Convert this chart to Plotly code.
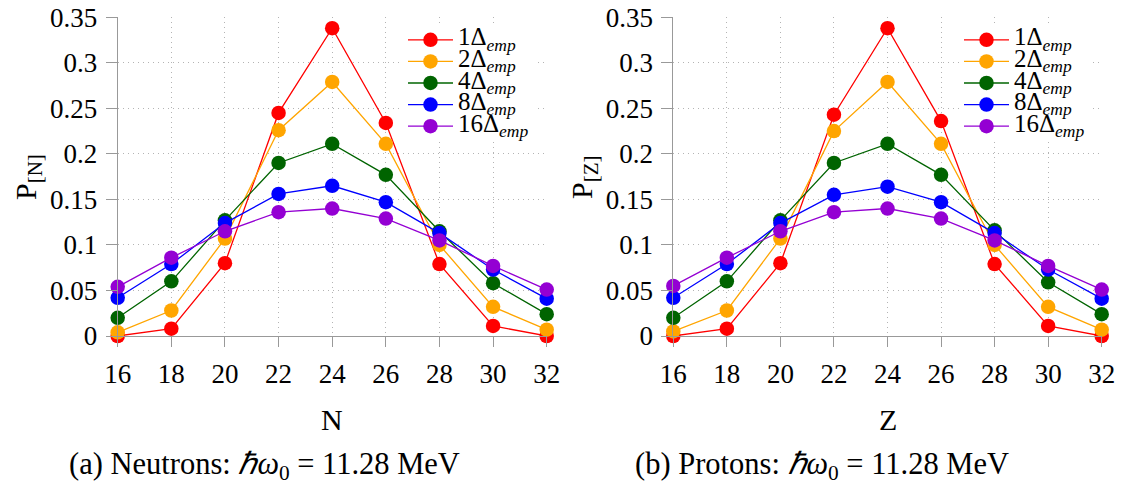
import plotly.graph_objects as go

x_vals = [16, 18, 20, 22, 24, 26, 28, 30, 32]
series_labels = ["1Δ", "2Δ", "4Δ", "8Δ", "16Δ"]
colors = ["#ff0000", "#ffa500", "#006400", "#0000ff", "#9400d3"]

# Neutrons panel
neutrons_1 = [0.000, 0.008, 0.080, 0.245, 0.338, 0.234, 0.079, 0.011, 0.000]
neutrons_2 = [0.004, 0.028, 0.107, 0.226, 0.279, 0.211, 0.100, 0.032, 0.007]
neutrons_4 = [0.020, 0.060, 0.127, 0.190, 0.211, 0.177, 0.115, 0.058, 0.024]
neutrons_8 = [0.042, 0.079, 0.124, 0.156, 0.165, 0.147, 0.113, 0.073, 0.041]
neutrons_16 = [0.054, 0.086, 0.115, 0.136, 0.140, 0.129, 0.105, 0.077, 0.051]

# Protons panel
protons_1 = [0.000, 0.008, 0.080, 0.243, 0.338, 0.236, 0.079, 0.011, 0.000]
protons_2 = [0.005, 0.028, 0.107, 0.225, 0.279, 0.211, 0.100, 0.032, 0.007]
protons_4 = [0.020, 0.060, 0.127, 0.190, 0.211, 0.177, 0.116, 0.059, 0.024]
protons_8 = [0.042, 0.079, 0.124, 0.155, 0.164, 0.147, 0.113, 0.073, 0.041]
protons_16 = [0.055, 0.086, 0.115, 0.136, 0.140, 0.129, 0.105, 0.077, 0.051]

x_ticks = [16, 18, 20, 22, 24, 26, 28, 30, 32]
y_ticks = [0, 0.05, 0.1, 0.15, 0.2, 0.25, 0.3, 0.35]
y_tick_text = ["0", "0.05", "0.1", "0.15", "0.2", "0.25", "0.3", "0.35"]

neutrons = [neutrons_1, neutrons_2, neutrons_4, neutrons_8, neutrons_16]
protons = [protons_1, protons_2, protons_4, protons_8, protons_16]

FONT = "Liberation Serif"
W, H = 1126, 493


def legend_name(lbl):
    return '<span style="font-size:25px">' + lbl + '<sub><i>emp</i></sub></span>'


fig = go.Figure()
for lbl, col, ys in zip(series_labels, colors, neutrons):
    fig.add_trace(go.Scatter(x=x_vals, y=ys, mode="lines+markers", name=legend_name(lbl),
                             line=dict(color=col, width=1.3),
                             marker=dict(color=col, size=14.5),
                             cliponaxis=False, xaxis="x", yaxis="y", legend="legend"))
for lbl, col, ys in zip(series_labels, colors, protons):
    fig.add_trace(go.Scatter(x=x_vals, y=ys, mode="lines+markers", name=legend_name(lbl),
                             line=dict(color=col, width=1.3),
                             marker=dict(color=col, size=14.5),
                             cliponaxis=False, xaxis="x2", yaxis="y2", legend="legend2"))

ydom = [1 - 336 / H, 1 - 17.3 / H]
xdom1 = [117.7 / W, 546.7 / W]
xdom2 = [673.3 / W, 1101.7 / W]

axis_common = dict(showgrid=True, gridcolor="#b4b4b4", griddash="1px,4px", gridwidth=1,
                   showline=True, linecolor="#999999", linewidth=1,
                   ticks="outside", tickcolor="#999999", zeroline=False,
                   automargin=False,
                   tickfont=dict(family=FONT, size=27, color="black"))

xa = dict(axis_common, range=[16, 32], tickvals=x_ticks, ticklen=10, ticklabelstandoff=4)
ya = dict(axis_common, range=[0, 0.35], tickvals=y_ticks, ticktext=y_tick_text, ticklen=11,
          ticklabelstandoff=3)

legend_common = dict(xanchor="left", yanchor="top", bgcolor="rgba(255,255,255,1)",
                     borderwidth=0, itemwidth=45,
                     font=dict(family=FONT, size=14.3, color="black"))

fig.update_layout(
    width=W, height=H,
    margin=dict(l=0, r=0, t=0, b=0, autoexpand=False),
    paper_bgcolor="white", plot_bgcolor="white",
    font=dict(family=FONT, color="black"),
    showlegend=True,
    xaxis=dict(xa, domain=xdom1, anchor="y"),
    yaxis=dict(ya, domain=ydom, anchor="x"),
    xaxis2=dict(xa, domain=xdom2, anchor="y2"),
    yaxis2=dict(ya, domain=ydom, anchor="x2"),
    legend=dict(legend_common, x=403 / W, y=1 - 24 / H),
    legend2=dict(legend_common, x=959 / W, y=1 - 24 / H),
)

ann_font = dict(family=FONT, size=30, color="black")
cap_font = dict(family=FONT, size=30.5, color="black")
annotations = [
    dict(text="N", x=332 / W, y=1 - 419 / H, xref="paper", yref="paper", showarrow=False,
         font=ann_font, xanchor="center", yanchor="middle"),
    dict(text="Z", x=887.5 / W, y=1 - 419 / H, xref="paper", yref="paper", showarrow=False,
         font=ann_font, xanchor="center", yanchor="middle"),
    dict(text="P<sub>[N]</sub>", x=28 / W, y=1 - 177 / H, xref="paper", yref="paper",
         showarrow=False, font=ann_font, textangle=-90, xanchor="center", yanchor="middle"),
    dict(text="P<sub>[Z]</sub>", x=584 / W, y=1 - 177 / H, xref="paper", yref="paper",
         showarrow=False, font=ann_font, textangle=-90, xanchor="center", yanchor="middle"),
    dict(text="(a) Neutrons: <i>ℏω</i><sub>0</sub> = 11.28 MeV", x=264 / W, y=1 - 466 / H,
         xref="paper", yref="paper", showarrow=False, font=cap_font,
         xanchor="center", yanchor="middle"),
    dict(text="(b) Protons: <i>ℏω</i><sub>0</sub> = 11.28 MeV", x=822 / W, y=1 - 466 / H,
         xref="paper", yref="paper", showarrow=False, font=cap_font,
         xanchor="center", yanchor="middle"),
]
fig.update_layout(annotations=annotations)

fig.write_html("out.html", config={"displayModeBar": False},
               post_script="document.body.style.margin='0px';")
